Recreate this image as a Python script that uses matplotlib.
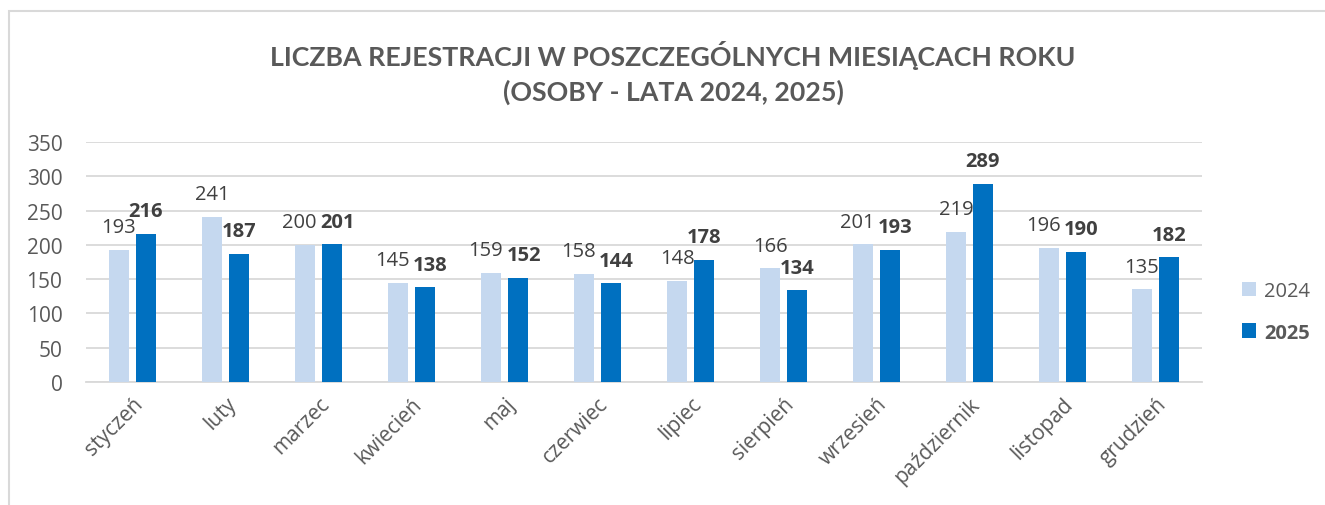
import numpy as np
import matplotlib
matplotlib.use('Agg')
import matplotlib.pyplot as plt
from matplotlib.patches import Rectangle

# data
months = ['styczeń', 'luty', 'marzec', 'kwiecień', 'maj', 'czerwiec',
          'lipiec', 'sierpień', 'wrzesień', 'październik', 'listopad', 'grudzień']
vals_2024 = [193, 241, 200, 145, 159, 158, 148, 166, 201, 219, 196, 135]
vals_2025 = [216, 187, 201, 138, 152, 144, 178, 134, 193, 289, 190, 182]
series_names = ['2024', '2025']
y_ticks = [0, 50, 100, 150, 200, 250, 300, 350]

c_2024 = '#C5D8EF'
c_2025 = '#0070C0'
txt = '#595959'
lbl = '#404040'
grid_c = '#D9D9D9'

plt.rcParams['font.family'] = ['Open Sans', 'DejaVu Sans']

fig = plt.figure(figsize=(13.25, 5.06), dpi=100)
W, H = 1325.0, 506.0
ax = fig.add_axes([86 / W, 1 - 383 / H, (1202 - 86) / W, (383 - 143) / H])

# chart border (light gray frame)
fig.patches.append(Rectangle((9 / W, -0.1), 1.2, 1 - 12 / H + 0.1, transform=fig.transFigure,
                             fill=False, edgecolor='#D9D9D9', linewidth=1.5))

x = np.arange(len(months))
bw = 0.225
off = 0.145
b1 = ax.bar(x - off, vals_2024, bw, color=c_2024, label=series_names[0], zorder=3)
b2 = ax.bar(x + off, vals_2025, bw, color=c_2025, label=series_names[1], zorder=3)

# labels: push pairs apart a little when they sit at nearly the same height
for xi, v1, v2 in zip(x, vals_2024, vals_2025):
    dx = 4 if abs(v1 - v2) <= 15 else 0
    ax.annotate(str(v1), (xi - off, v1), xytext=(-dx, 9), textcoords='offset points',
                ha='center', va='bottom', fontsize=14.5, color=lbl)
    ax.annotate(str(v2), (xi + off, v2), xytext=(dx, 9), textcoords='offset points',
                ha='center', va='bottom', fontsize=14.5, color=lbl, fontweight='bold')

ax.set_xlim(-0.5, len(months) - 0.5)
ax.set_ylim(0, 350)
ax.set_yticks(y_ticks)
ax.set_xticks(x)
ax.set_xticklabels(months, rotation=45, ha='right', rotation_mode='anchor')
ax.tick_params(axis='both', length=0, labelsize=15, labelcolor=txt)
ax.tick_params(axis='y', pad=17)
ax.tick_params(axis='x', pad=8)
ax.yaxis.grid(True, color=grid_c, linewidth=1.3, zorder=0)
ax.set_axisbelow(True)
for s in ['top', 'right', 'left']:
    ax.spines[s].set_visible(False)
ax.spines['bottom'].set_color(grid_c)
ax.spines['bottom'].set_linewidth(1.3)

fig.text(673 / W, 1 - 55 / H, 'LICZBA REJESTRACJI W POSZCZEGÓLNYCH MIESIĄCACH ROKU',
         ha='center', va='center', fontsize=19.3, fontweight='bold', color=txt, family='Lato')
fig.text(673 / W, 1 - 92 / H, '(OSOBY - LATA 2024, 2025)',
         ha='center', va='center', fontsize=19.3, fontweight='bold', color=txt, family='Lato')

leg = fig.legend(handles=[b1, b2], loc='center left', bbox_to_anchor=(1224 / W, 1 - 313 / H),
                 frameon=False, fontsize=14.5, labelcolor=txt, handlelength=0.7,
                 handleheight=0.7, handletextpad=0.4, labelspacing=1.05)
leg.get_texts()[1].set_fontweight('bold')

fig.savefig('out.png', dpi=100)
